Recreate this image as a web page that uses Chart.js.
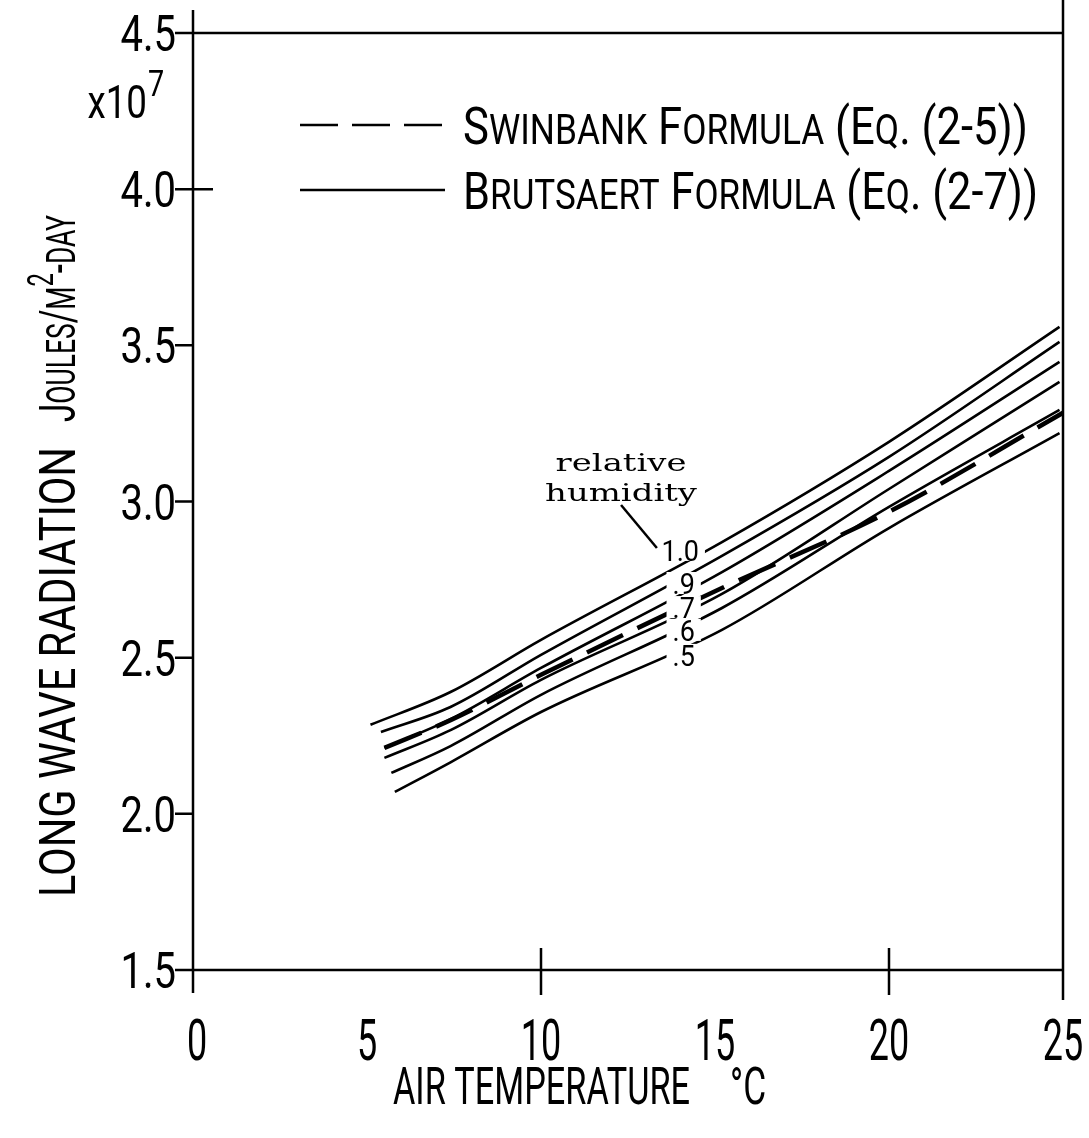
<!DOCTYPE html>
<html>
<head>
<meta charset="utf-8">
<script src="https://cdn.jsdelivr.net/npm/chart.js@4"></script>
<style>
  html, body { margin: 0; padding: 0; background: #fff; }
</style>
</head>
<body>
<canvas id="chart" width="1089" height="1138"></canvas>
<script>
// long wave radiation, x10^7 J/m2-day, against air temperature (deg C)
const rh10T = [5.1, 7.4, 10, 15.2, 20, 24.9];
const rh10 = [2.285, 2.390, 2.557, 2.870, 3.191, 3.559];
const rh09T = [5.4, 7.4, 10, 15.2, 20, 24.9];
const rh09 = [2.262, 2.342, 2.509, 2.826, 3.143, 3.511];
const rh08T = [5.5, 7.4, 10, 15.2, 20, 24.9];
const rh08 = [2.211, 2.303, 2.467, 2.774, 3.098, 3.447];
const rh07T = [5.5, 7.4, 10, 15.2, 20, 24.9];
const rh07 = [2.179, 2.268, 2.429, 2.704, 3.040, 3.383];
const rh06T = [5.7, 7.4, 10, 15.2, 20, 24.9];
const rh06 = [2.131, 2.217, 2.381, 2.659, 2.983, 3.293];
const rh05T = [5.8, 7.4, 10, 15.2, 20, 24.9];
const rh05 = [2.070, 2.165, 2.326, 2.589, 2.915, 3.219];
const swinbankT = [5.5, 7.4, 10, 15.2, 20, 25];
const swinbank = [2.211, 2.300, 2.445, 2.723, 2.967, 3.284];

const xTicks = [0, 5, 10, 15, 20, 25];
const yTicks = [1.5, 2.0, 2.5, 3.0, 3.5, 4.0, 4.5];

// humidity labels written on the curves
const curveLabels = ['1.0', '.9', '.7', '.6', '.5'];
const curveLabelT = [14.0, 14.1, 14.1, 14.1, 14.1];
const curveLabelV = [2.845, 2.739, 2.662, 2.589, 2.509];

const FONT = 'Roboto, "Liberation Sans", sans-serif';
const WEIGHT = '400 ';

function zip(xs, ys) {
    return xs.map((x, i) => ({x: x, y: ys[i]}));
}

function solid(xs, ys) {
    return {data: zip(xs, ys), borderColor: '#000', borderWidth: 2.6, pointRadius: 0,
        cubicInterpolationMode: 'monotone', fill: false};
}

// text helpers: the lettering on the original is very narrow, so squeeze it
function squeezed(ctx, text, x, y, size, sx, align, family) {
    ctx.font = (family ? '' : WEIGHT) + size + 'px ' + (family || FONT);
    const w = ctx.measureText(text).width * sx;
    let x0 = x;
    if (align === 'center') x0 = x - w / 2;
    else if (align === 'right') x0 = x - w;
    ctx.save();
    ctx.translate(x0, y);
    ctx.scale(sx, 1);
    ctx.textAlign = 'left';
    ctx.textBaseline = 'alphabetic';
    ctx.fillText(text, 0, 0);
    ctx.restore();
    return w;
}

function smallCaps(str, big, small) {
    const out = [];
    for (const ch of str) {
        const lower = ch !== ch.toUpperCase();
        const size = lower ? small : big;
        const last = out[out.length - 1];
        if (last && last.size === size && !last.dy) last.t += ch.toUpperCase();
        else out.push({t: ch.toUpperCase(), size: size, dy: 0});
    }
    return out;
}

function runsWidth(ctx, runs) {
    let w = 0;
    for (const r of runs) {
        ctx.font = WEIGHT + r.size + 'px ' + FONT;
        w += ctx.measureText(r.t).width;
    }
    return w;
}

function drawRuns(ctx, runs, x, y, width) {
    const sx = width / runsWidth(ctx, runs);
    ctx.save();
    ctx.translate(x, y);
    ctx.scale(sx, 1);
    ctx.textAlign = 'left';
    ctx.textBaseline = 'alphabetic';
    let cx = 0;
    for (const r of runs) {
        ctx.font = WEIGHT + r.size + 'px ' + FONT;
        ctx.fillText(r.t, cx, -r.dy);
        cx += ctx.measureText(r.t).width;
    }
    ctx.restore();
}

const annotations = {
    id: 'annotations',
    afterDatasetsDraw(chart) {
        const ctx = chart.ctx;
        const xs = chart.scales.x, ys = chart.scales.y;
        ctx.save();
        ctx.fillStyle = '#000';
        // curve labels sit in gaps of the lines
        curveLabels.forEach((lab, i) => {
            const px = xs.getPixelForValue(curveLabelT[i]);
            const py = ys.getPixelForValue(curveLabelV[i]);
            ctx.font = WEIGHT + '30px ' + FONT;
            const w = ctx.measureText(lab).width * 0.9;
            ctx.fillStyle = '#fff';
            ctx.fillRect(px - w / 2 - 6, py - 11, w + 12, 22);
            ctx.fillStyle = '#000';
            squeezed(ctx, lab, px, py + 11, 30, 0.9, 'center');
        });
        // "relative humidity" note with its leader
        const serif = '"DejaVu Serif", serif';
        const nx = xs.getPixelForValue(12.3);
        ctx.font = '24px ' + serif;
        const sxNote = 131 / ctx.measureText('relative').width;
        squeezed(ctx, 'relative', nx, ys.getPixelForValue(3.123) + 8, 24, sxNote, 'center', serif);
        squeezed(ctx, 'humidity', nx, ys.getPixelForValue(3.027) + 8, 24, sxNote, 'center', serif);
        ctx.strokeStyle = '#000';
        ctx.lineWidth = 2.5;
        ctx.beginPath();
        ctx.moveTo(xs.getPixelForValue(12.3), ys.getPixelForValue(2.989));
        ctx.lineTo(xs.getPixelForValue(13.33), ys.getPixelForValue(2.851));
        ctx.stroke();
        ctx.restore();
    },
    afterDraw(chart) {
        const ctx = chart.ctx;
        const xs = chart.scales.x, ys = chart.scales.y;
        const a = chart.chartArea;
        ctx.save();
        ctx.strokeStyle = '#000';
        ctx.fillStyle = '#000';
        ctx.lineWidth = 2.5;
        ctx.beginPath();
        // frame: left axis runs past the top, right edge past both ends
        ctx.moveTo(a.left, a.top - 23); ctx.lineTo(a.left, a.bottom + 23);
        ctx.moveTo(a.left, a.top); ctx.lineTo(a.right, a.top);
        ctx.moveTo(a.right, 0); ctx.lineTo(a.right, a.bottom + 30);
        ctx.moveTo(a.left, a.bottom); ctx.lineTo(a.right, a.bottom);
        yTicks.forEach(v => {
            const py = ys.getPixelForValue(v);
            ctx.moveTo(a.left - 18, py);
            ctx.lineTo(v >= 4.0 ? a.left + 20 : a.left, py);
        });
        [10, 20].forEach(v => {
            const px = xs.getPixelForValue(v);
            ctx.moveTo(px, a.bottom - 22); ctx.lineTo(px, a.bottom + 25);
        });
        ctx.stroke();

        yTicks.forEach(v => {
            squeezed(ctx, v.toFixed(1), a.left - 17, ys.getPixelForValue(v) + 18, 50, 0.8, 'right');
        });
        xTicks.forEach(v => {
            squeezed(ctx, String(v), xs.getPixelForValue(v) + (v === 0 ? 4 : 0), 1060, 58, 0.62, 'center');
        });
        // scale factor
        squeezed(ctx, 'x10', 147, 118, 46, 0.8, 'right');
        squeezed(ctx, '7', 148, 96, 36, 0.8, 'left');

        // x axis title
        drawRuns(ctx, [{t: 'AIR TEMPERATURE', size: 52, dy: 0}], 393, 1104, 297);
        drawRuns(ctx, [{t: '°C', size: 52, dy: 0}], 730, 1104, 36);

        // y axis title, rotated
        ctx.save();
        ctx.translate(75, 897);
        ctx.rotate(-Math.PI / 2);
        drawRuns(ctx, [{t: 'LONG WAVE RADIATION', size: 50, dy: 0}], 0, 0, 450);
        const jr = smallCaps('Joules/m', 50, 40).concat([{t: '2', size: 36, dy: 22}], smallCaps('-day', 50, 40));
        drawRuns(ctx, jr, 475, 0, 207);
        ctx.restore();

        // legend
        ctx.lineWidth = 2.6;
        ctx.setLineDash([38, 14]);
        ctx.beginPath(); ctx.moveTo(300, 125); ctx.lineTo(442, 125); ctx.stroke();
        ctx.setLineDash([]);
        ctx.beginPath(); ctx.moveTo(300, 190); ctx.lineTo(445, 190); ctx.stroke();
        drawRuns(ctx, smallCaps('Swinbank Formula (Eq. (2-5))', 52, 42), 463, 144, 565);
        drawRuns(ctx, smallCaps('Brutsaert Formula (Eq. (2-7))', 52, 42), 463, 209, 575);
        ctx.restore();
    }
};

const dashed = solid(swinbankT, swinbank);
dashed.borderDash = [40, 16];
dashed.borderWidth = 4.5;

new Chart(document.getElementById('chart').getContext('2d'), {
    type: 'line',
    data: {
        datasets: [
            solid(rh10T, rh10), solid(rh09T, rh09), solid(rh08T, rh08),
            solid(rh07T, rh07), solid(rh06T, rh06), solid(rh05T, rh05),
            dashed
        ]
    },
    options: {
        responsive: false,
        animation: false,
        devicePixelRatio: 1,
        layout: {padding: {top: 33, right: 26, left: 0, bottom: 0}},
        plugins: {legend: {display: false}, tooltip: {enabled: false}},
        scales: {
            x: {
                type: 'linear', min: 0, max: 25,
                ticks: {display: false, stepSize: 5},
                grid: {display: false}, border: {display: false},
                afterFit: s => { s.height = 168; }
            },
            y: {
                min: 1.5, max: 4.5,
                ticks: {display: false, stepSize: 0.5},
                grid: {display: false}, border: {display: false},
                afterFit: s => { s.width = 193; }
            }
        }
    },
    plugins: [annotations]
});
</script>
</body>
</html>
